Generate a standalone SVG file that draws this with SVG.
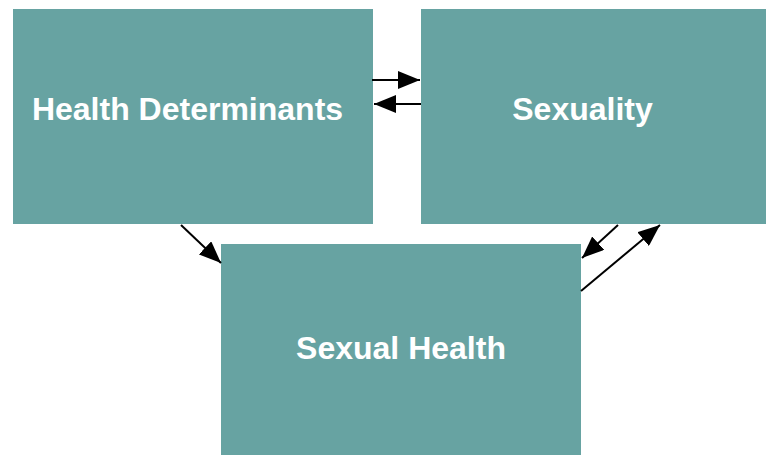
<svg xmlns="http://www.w3.org/2000/svg" width="766" height="455" viewBox="0 0 766 455">
<defs>
<style>
.box{fill:#67A3A2}
.lbl{font-family:"Liberation Sans",Arial,sans-serif;font-weight:bold;font-size:32px;fill:#ffffff;text-anchor:middle}
.edge{stroke:#000;stroke-width:2;fill:none}
</style>
<marker id="ahb" viewBox="0 0 10 10" refX="10" refY="5" markerWidth="22" markerHeight="18" markerUnits="userSpaceOnUse" orient="auto" preserveAspectRatio="none">
<path d="M0,0 L10,5 L0,10 z" fill="#000"/>
</marker>
</defs>
<rect width="766" height="455" fill="#fff"/>
<g id="health-determinants">
<rect class="box" x="13" y="9" width="360" height="215"/>
<text class="lbl" x="187.5" y="120">Health Determinants</text>
</g>
<g id="sexuality">
<rect class="box" x="421" y="9" width="345" height="215"/>
<text class="lbl" x="582.5" y="120">Sexuality</text>
</g>
<g id="sexual-health">
<rect class="box" x="221" y="244" width="360" height="211"/>
<text class="lbl" x="401" y="359">Sexual Health</text>
</g>
<g id="connectors">
<line class="edge" x1="372" y1="80" x2="420" y2="80" marker-end="url(#ahb)"/>
<line class="edge" x1="421" y1="104" x2="374" y2="104" marker-end="url(#ahb)"/>
<line class="edge" x1="181" y1="225" x2="221" y2="263" marker-end="url(#ahb)"/>
<line class="edge" x1="618" y1="225" x2="582" y2="258" marker-end="url(#ahb)"/>
<line class="edge" x1="581" y1="291" x2="660" y2="225" marker-end="url(#ahb)"/>
</g>
</svg>
